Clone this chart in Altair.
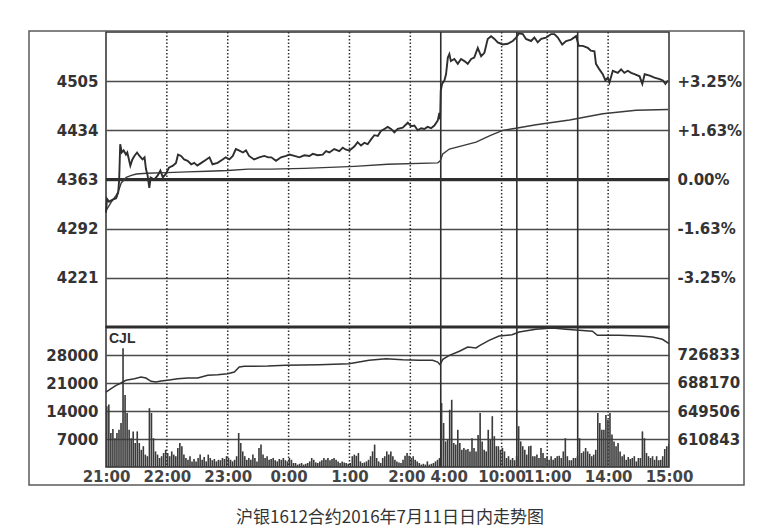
import altair as alt
import pandas as pd

# ---------------- data ----------------
# x axis is a trading-minute index: 0 = 21:00 ... 330 = day open, 555 = 15:00
price_idx = [0, 1, 3, 6.6, 10, 12, 13, 14, 15.5, 17.4, 19.7, 21, 24, 26, 28, 30.6, 33, 36, 38, 39.4,
             41, 42.7, 44, 47.6, 51, 53.6, 56, 59, 62, 66, 69, 71, 74, 77, 80.5, 84, 87, 90, 94, 99,
             102, 105, 110, 115, 118, 121.6, 125, 128, 131, 135, 138, 141, 146, 151, 156, 160, 163,
             167.6, 172.5, 177.5, 180.8, 185.7, 190.6, 195.5, 200.5, 203.8, 208.7, 213.6, 216.9,
             220.2, 225, 230, 233.4, 236.6, 240, 245, 248, 251.4, 254.7, 258, 261.3, 264.5, 268, 271,
             274.4, 277.7, 281, 284.3, 287.6, 292.5, 297.5, 300.7, 304, 307.3, 310.6, 313.8, 317,
             320.5, 323.7, 327, 328.6, 329.4,
             330, 331.3, 333.6, 335.2, 337, 338.5, 340, 343.4, 346.8, 350, 353.3, 356.6, 360, 363,
             366.5, 369.8, 373, 376.3, 379.6, 382.9, 386.2, 391, 396, 401, 404.3, 407, 410.9, 414,
             419, 422.3, 425.6, 429, 433.8, 438.8, 442, 445.4, 449.7, 453.6, 458.5, 463.4, 466, 470,
             475, 478, 481.5, 483, 486.4, 489.7, 492.3, 494.7, 496.3, 499.6, 504.5, 507.8, 511,
             514.4, 517.7, 521, 526, 528.7, 531, 536, 540.7, 545.8, 549, 551.5, 554]
price_val = [4315, 4335, 4331, 4334, 4336, 4344, 4363, 4414, 4402, 4405, 4399, 4402, 4383, 4392, 4397,
             4402, 4397, 4392, 4395, 4378, 4369, 4351, 4366, 4363, 4369, 4376, 4366, 4371, 4380, 4383,
             4387, 4399, 4397, 4392, 4390, 4385, 4387, 4383, 4387, 4392, 4395, 4385, 4387, 4392, 4395,
             4392, 4397, 4407, 4405, 4402, 4405, 4397, 4392, 4395, 4397, 4395, 4395, 4390, 4395, 4397,
             4399, 4397, 4395, 4398, 4397, 4400, 4398, 4399, 4404, 4402, 4407, 4404, 4409, 4406, 4405,
             4411, 4417, 4412, 4416, 4414, 4421, 4427, 4426, 4433, 4436, 4439, 4436, 4431, 4436, 4438,
             4445, 4440, 4441, 4434, 4437, 4436, 4439, 4437, 4441, 4448, 4459, 4450,
             4491, 4501, 4506, 4515, 4539, 4544, 4534, 4537, 4530, 4537, 4534, 4530, 4537, 4539, 4553,
             4541, 4546, 4566, 4570, 4566, 4561, 4558, 4559, 4563, 4568, 4574, 4573, 4566, 4563, 4568,
             4561, 4566, 4568, 4573, 4573, 4568, 4558, 4563, 4565, 4570, 4556, 4556, 4553, 4549, 4548,
             4530, 4522, 4515, 4506, 4510, 4503, 4520, 4517, 4522, 4517, 4520, 4517, 4515, 4512, 4501,
             4515, 4513, 4510, 4508, 4506, 4501, 4506]

avg_idx = [0, 5, 10, 12, 15, 20, 25, 30, 40, 60, 80, 100, 120, 140, 162.7, 195.5, 245, 277.7, 327,
           329.5, 332, 338.5, 351.7, 364.8, 378, 391, 404, 424, 457, 489.7, 522.6, 554]
avg_val = [4318, 4330, 4340, 4345, 4358, 4366, 4369, 4371, 4372, 4373, 4374, 4375, 4376, 4378, 4378,
           4379, 4382, 4385, 4387, 4390, 4400, 4407, 4412, 4417, 4426, 4434, 4437, 4442, 4449, 4458,
           4463, 4464]

# volume (CJL), one bar per two minutes
vol_night = [15200, 15600, 8500, 9500, 7200, 8500, 9300, 11000, 29700, 18000,
             13500, 9300, 7200, 8900, 6000, 8900, 6000, 4300, 5200, 3100,
             2700, 14700, 13500, 7200, 3900, 3100, 2250, 2700, 3500, 4300,
             3500, 2700, 3900, 3100, 2700, 4750, 6000, 5200, 3100, 2250,
             1800, 2700, 1400, 2000, 1400, 2250, 3100, 1800, 2500, 1400,
             3100, 2250, 1700, 2000, 1400, 1800, 1700, 2250, 2000, 2700,
             2250, 1800, 1400, 1800, 2700, 8500, 6000, 3900, 2700, 1800,
             2250, 1800, 3100, 2250, 1400, 4750, 5600, 3100, 2250, 2700,
             1800, 2000, 2250, 1700, 1400, 2000, 1800, 2250, 1700, 1400,
             2250, 1800, 1000, 1000, 600, 800, 1000, 600, 800, 1000,
             1400, 2250, 1800, 1150, 1000, 1400, 1700, 2250, 1800, 2250,
             1700, 2000, 2250, 1800, 1400, 1000, 1400, 1150, 1000, 800,
             1000, 2700, 3100, 2800, 3500, 1400, 1000, 1150, 1400, 1800,
             2700, 3900, 5600, 2250, 1400, 1000, 2250, 2700, 3900, 3100,
             3900, 2700, 1800, 1400, 1150, 1000, 1800, 2800, 3500, 2800,
             2250, 2700, 1800, 1400, 1000, 600, 800, 600, 1400, 600,
             800, 1000, 1400, 1800, 2250]
vol_day = [16000, 11000, 6400, 6800, 14300, 16800, 6000, 5600, 9300, 6000,
           4300, 4750, 4300, 4500, 3900, 7200, 4750, 3900, 8000, 13500,
           6400, 4300, 3900, 9300, 6800, 12700, 7700, 5200, 5200, 4300,
           4750, 3900, 2250, 2700, 1800, 2250, 1700, 2700, 10200, 6400,
           5200, 4300, 3100, 5200, 5300, 2700, 2700, 3100, 2250, 4750,
           3500, 2250, 2700, 1800, 2700, 1800, 2250, 2700, 2800, 2250,
           3900, 7200, 2700, 1700, 1700, 2250, 2250, 2700, 7200, 3500,
           3900, 4750, 3900, 3300, 2700, 3100, 4300, 13500, 11000, 9300,
           9300, 13000, 11800, 13500, 8100, 6400, 5200, 6000, 3900, 2700,
           3100, 1800, 2500, 2000, 2250, 2700, 1400, 2250, 2250, 8900,
           7200, 3500, 2700, 2250, 2700, 1800, 2700, 1700, 1800, 2700,
           4500, 5200, 5800]

# open interest (right axis of the lower panel)
oi_idx = [0, 5, 10, 14.8, 19.7, 28, 34.5, 39.4, 44.4, 49.3, 54.2, 60.8, 70.7, 80.5, 90.4, 100.3, 110,
          120, 126.5, 131.4, 136.4, 159.4, 177.5, 210, 239.6, 259.3, 276, 292.5, 308.6, 322, 327,
          329.3, 332, 338.5, 348.4, 356.6, 364.8, 367.8, 377.6, 387.5, 400.3, 407.2, 423.7, 440,
          453.3, 466.4, 479.5, 484.4, 492.7, 505.8, 525.5, 538.6, 548.5, 555]
oi_val = [675700, 680300, 685000, 688200, 691900, 694100, 696400, 695000, 690500, 689500, 690900,
          691900, 694100, 695000, 695000, 698800, 699700, 701000, 703400, 710300, 711200, 711500,
          712600, 713400, 714800, 719500, 721700, 720300, 719500, 719500, 717100, 713400, 720900,
          726400, 732000, 737900, 736500, 739300, 747100, 753100, 754800, 758600, 762300, 764100,
          762300, 760900, 759600, 754000, 754000, 754000, 753100, 751700, 748500, 742400]

price_ticks = [4221, 4292, 4363, 4434, 4505]
pct_labels = ["-3.25%", "-1.63%", "0.00%", "+1.63%", "+3.25%"]
vol_ticks = [7000, 14000, 21000, 28000]
oi_ticks = [610843, 649506, 688170, 726833]
time_ticks = [0, 60, 120, 180, 240, 300, 330, 390, 435, 495, 555]
time_labels = ["21:00", "22:00", "23:00", "0:00", "1:00", "2:00", "4:00", "10:00", "11:00", "14:00", "15:00"]
dotted_idx = [60, 120, 180, 240, 300, 390, 435, 495]
solid_idx = [330, 405, 465]
base_price = 4363
caption = "沪银1612合约2016年7月11日日内走势图"

# ---------------- tables ----------------
price_df = pd.DataFrame({"t": price_idx, "p": price_val})
avg_df = pd.DataFrame({"t": avg_idx, "a": avg_val})
vols = vol_night + vol_day
vol_df = pd.DataFrame({"t": [2 * k for k in range(len(vols))],
                       "t1": [min(2 * k + 1.6, 555) for k in range(len(vols))],
                       "v": vols})
oi_df = pd.DataFrame({"t": oi_idx, "o": oi_val})
dot_df = pd.DataFrame({"t": dotted_idx})
sol_df = pd.DataFrame({"t": solid_idx})
one = pd.DataFrame({"a": [0]})


def lab_expr(vals, labels):
    expr = "''"
    for v, l in reversed(list(zip(vals, labels))):
        expr = f"datum.value == {v} ? '{l}' : ({expr})"
    return expr


W = 563
H1 = 295
H2 = 140
INK = "#2e2e2e"
GRID = "#4a4a4a"
FONT = "DejaVu Sans"

xs = alt.Scale(domain=[0, 555], nice=False, zero=False)
ps = alt.Scale(domain=[4150, 4576], nice=False, zero=False)
vs = alt.Scale(domain=[0, 35000], nice=False, zero=False)
os_ = alt.Scale(domain=[572180, 765496], nice=False, zero=False)

x_none = alt.X("t:Q", scale=xs, axis=None)
x_axis = alt.Axis(values=time_ticks, labelExpr=lab_expr(time_ticks, time_labels), grid=False,
                  ticks=False, domain=False, labelPadding=2, labelFlush=False, labelOverlap=False,
                  labelColor="#444", labelFontSize=15, title=None, orient="bottom",
                  labelOffset={"condition": [{"test": "datum.value == 330", "value": 8},
                                             {"test": "datum.value == 300", "value": -4}],
                               "value": 0})
x_bot = alt.X("t:Q", scale=xs, axis=x_axis, title=None)

left_price_axis = alt.Axis(orient="left", values=price_ticks, grid=True, gridColor=GRID,
                           gridWidth=1.3, ticks=False, domain=False, labelPadding=8, title=None,
                           format="d")
right_pct_axis = alt.Axis(orient="right", values=price_ticks, grid=False, ticks=False,
                          domain=False, labelPadding=8, title=None,
                          labelExpr=lab_expr(price_ticks, pct_labels))

price_line = alt.Chart(price_df).mark_line(color=INK, strokeWidth=1.9).encode(
    x=x_none, y=alt.Y("p:Q", scale=ps, axis=left_price_axis))
avg_line = alt.Chart(avg_df).mark_line(color="#3a3a3a", strokeWidth=1.4).encode(
    x=x_none, y=alt.Y("a:Q", scale=ps, axis=right_pct_axis))
zero_rule = alt.Chart(pd.DataFrame({"y": [base_price]})).mark_rule(color=INK, strokeWidth=3).encode(
    y=alt.Y("y:Q", scale=ps, axis=None))
dots_top = alt.Chart(dot_df).mark_rule(color=INK, strokeWidth=1.5, strokeDash=[1.5, 2]).encode(x=x_none)
sol_top = alt.Chart(sol_df).mark_rule(color=INK, strokeWidth=1.6).encode(x=x_none)

top = alt.layer(dots_top, sol_top, zero_rule, avg_line, price_line).resolve_scale(
    y="independent").properties(width=W, height=H1)

left_vol_axis = alt.Axis(orient="left", values=vol_ticks, grid=True, gridColor=GRID, gridWidth=1.3,
                         ticks=False, domain=False, labelPadding=8, title=None, format="d")
right_oi_axis = alt.Axis(orient="right", values=oi_ticks, grid=False, ticks=False, domain=False,
                         labelPadding=8, title=None, format="d")

bars = alt.Chart(vol_df).mark_rect(color="#3a3a3a").encode(
    x=x_bot, x2="t1:Q",
    y=alt.Y("v:Q", scale=vs, axis=left_vol_axis), y2=alt.value(H2))
oi_line = alt.Chart(oi_df).mark_line(color="#333", strokeWidth=1.5).encode(
    x=x_bot, y=alt.Y("o:Q", scale=os_, axis=right_oi_axis))
top_rule = alt.Chart(pd.DataFrame({"y": [35000]})).mark_rule(color=INK, strokeWidth=3).encode(
    y=alt.Y("y:Q", scale=vs, axis=None))
dots_bot = alt.Chart(dot_df).mark_rule(color=INK, strokeWidth=1.5, strokeDash=[1.5, 2]).encode(
    x=x_bot)
sol_bot = alt.Chart(sol_df).mark_rule(color=INK, strokeWidth=1.6).encode(x=x_bot)
cjl = alt.Chart(one).mark_text(align="left", baseline="middle", font="Liberation Sans",
                               fontSize=14, fontWeight="bold", color=INK).encode(
    x=alt.value(3), y=alt.value(12), text=alt.value("CJL"))
frame = alt.Chart(one).mark_rect(filled=False, color="#5a5a5a", strokeWidth=1.5).encode(
    x=alt.value(-77), x2=alt.value(638), y=alt.value(-296), y2=alt.value(158))
cap = alt.Chart(one).mark_text(align="center", baseline="middle", font="Noto Sans CJK SC",
                               fontSize=17, color="#333").encode(
    x=alt.value(284), y=alt.value(191), text=alt.value(caption))

bottom = alt.layer(dots_bot, sol_bot, bars, top_rule, oi_line, cjl, frame, cap).resolve_scale(
    y="independent").properties(width=W, height=H2)

chart = alt.vconcat(top, bottom, spacing=0, bounds="flush").properties(
    padding={"left": 19, "top": 20, "right": 5, "bottom": 2},
    background="white",
).configure_view(stroke=INK, strokeWidth=1.5).configure_axis(
    labelFont=FONT, labelFontWeight="bold", labelFontSize=15, labelColor="#333")

chart.save("out.html", embed_options={"renderer": "svg", "actions": False})
